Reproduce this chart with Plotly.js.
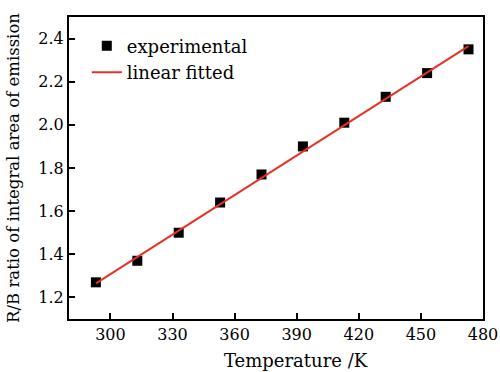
<!DOCTYPE html>
<html>
<head>
<meta charset="utf-8">
<script src="https://cdn.plot.ly/plotly-3.0.1.min.js"></script>
<style>html,body{margin:0;padding:0;background:#fff;}#chart{width:500px;height:372px;}</style>
</head>
<body>
<div id="chart"></div>
<script>
// Data
var temperature = [293, 313, 333, 353, 373, 393, 413, 433, 453, 473];
var ratio = [1.27, 1.37, 1.50, 1.64, 1.77, 1.90, 2.01, 2.13, 2.24, 2.35];
var fitTemperature = [293, 473];
var fitRatio = [1.265, 2.365];
var xTicks = [300, 330, 360, 390, 420, 450, 480];
var yTicks = [1.2, 1.4, 1.6, 1.8, 2.0, 2.2, 2.4];
var seriesNames = ["experimental", "linear fitted"];
var xTitle = "Temperature /K";
var yTitle = "R/B ratio of integral area of emission";

var FONT = "'DejaVu Serif', 'Liberation Serif', serif";

var traces = [
  {
    x: temperature, y: ratio, name: seriesNames[0],
    type: "scatter", mode: "markers",
    marker: {symbol: "square", size: 10, color: "#000"}
  },
  {
    x: fitTemperature, y: fitRatio, name: seriesNames[1],
    type: "scatter", mode: "lines",
    line: {color: "#e8302a", width: 2}
  }
];

var layout = {
  width: 500, height: 372,
  margin: {l: 69, r: 17, t: 17, b: 53},
  paper_bgcolor: "#fff", plot_bgcolor: "#fff",
  font: {family: FONT, size: 16, color: "#000"},
  showlegend: true,
  legend: {
    x: 0.043, y: 0.965, xanchor: "left", yanchor: "top",
    bgcolor: "rgba(0,0,0,0)", borderwidth: 0,
    font: {family: FONT, size: 18, color: "#000"}
  },
  xaxis: {
    range: [280, 480], tickvals: xTicks, ticktext: xTicks.map(String),
    ticks: "inside", ticklen: 6, tickwidth: 2, tickcolor: "#000",
    showline: true, linewidth: 2, linecolor: "#000", mirror: true,
    showgrid: false, zeroline: false,
    tickfont: {family: FONT, size: 16, color: "#000"}
  },
  yaxis: {
    range: [1.1, 2.5], tickvals: yTicks, ticktext: yTicks.map(function(v){return v.toFixed(1);}),
    ticks: "inside", ticklen: 6, tickwidth: 2, tickcolor: "#000",
    showline: true, linewidth: 2, linecolor: "#000", mirror: true,
    showgrid: false, zeroline: false,
    tickfont: {family: FONT, size: 16, color: "#000"},
    title: {text: yTitle, font: {family: FONT, size: 16.5, color: "#000"}, standoff: 15}
  },
  annotations: [
    {
      text: xTitle, xref: "paper", yref: "paper",
      x: 0.5495, y: 0, xanchor: "center", yanchor: "top", yshift: -29,
      showarrow: false, font: {family: FONT, size: 18, color: "#000"}
    }
  ]
};

Plotly.newPlot("chart", traces, layout, {staticPlot: true, displayModeBar: false});
</script>
</body>
</html>
